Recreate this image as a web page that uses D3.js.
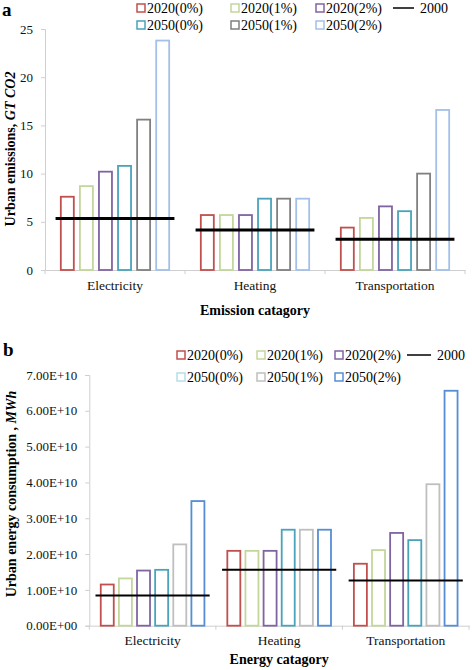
<!DOCTYPE html>
<html><head><meta charset="utf-8">
<script src="https://cdn.jsdelivr.net/npm/d3@7"></script>
<style>
html,body{margin:0;padding:0;background:#fff;}
svg, svg text{font-family:"Liberation Serif","Times New Roman",serif;}
</style></head>
<body>
<svg id="chart" width="472" height="670"></svg>
<script>
const categories = ["Electricity", "Heating", "Transportation"];
const seriesNames = ["2020(0%)", "2020(1%)", "2020(2%)", "2050(0%)", "2050(1%)", "2050(2%)"];

// Panel a: urban emissions (GT CO2)
const emis2020_0 = [7.6, 5.7, 4.4];
const emis2020_1 = [8.7, 5.7, 5.4];
const emis2020_2 = [10.2, 5.7, 6.6];
const emis2050_0 = [10.8, 7.4, 6.1];
const emis2050_1 = [15.6, 7.4, 10.0];
const emis2050_2 = [23.8, 7.4, 16.6];
const emis2000 = [5.35, 4.15, 3.2];
const ticksA = [0, 5, 10, 15, 20, 25];
const tickLabelsA = ["0", "5", "10", "15", "20", "25"];

// Panel b: urban energy consumption (MWh)
const ener2020_0 = [1.15e10, 2.09e10, 1.73e10];
const ener2020_1 = [1.32e10, 2.09e10, 2.11e10];
const ener2020_2 = [1.54e10, 2.09e10, 2.59e10];
const ener2050_0 = [1.56e10, 2.68e10, 2.39e10];
const ener2050_1 = [2.27e10, 2.68e10, 3.95e10];
const ener2050_2 = [3.48e10, 2.68e10, 6.56e10];
const ener2000 = [0.84e10, 1.56e10, 1.26e10];
const ticksB = [0, 1e10, 2e10, 3e10, 4e10, 5e10, 6e10, 7e10];
const tickLabelsB = ["0.00E+00", "1.00E+10", "2.00E+10", "3.00E+10", "4.00E+10", "5.00E+10", "6.00E+10", "7.00E+10"];

const colorsA = ["#c0504d", "#c3d69b", "#8064a2", "#4aa3bb", "#808080", "#a3c0e8"];
const legendColorsA = colorsA;
const colorsB = ["#c0504d", "#c3d69b", "#8064a2", "#4aa3bb", "#bfbfbf", "#558ed5"];
const legendColorsB = ["#c0504d", "#c3d69b", "#8064a2", "#b7dee8", "#bfbfbf", "#558ed5"];

const FONT = "Liberation Serif, Times New Roman, serif";
const svg = d3.select("#chart");

function panel(cfg) {
  const g = svg.append("g").attr("font-family", FONT);
  const x0 = d3.scaleBand().domain(categories).range([cfg.left, cfg.right]).padding(0);
  const x1 = d3.scaleBand().domain(seriesNames).range([0, x0.bandwidth()])
    .paddingInner(cfg.pInner).paddingOuter(cfg.pOuter);
  const y = d3.scaleLinear().domain(cfg.domain).range([cfg.bottom, cfg.top]);
  const axisColor = "#cfcfcf";

  // y axis
  const ya = g.append("g").attr("transform", `translate(${cfg.left},0)`)
    .call(d3.axisLeft(y).tickValues(cfg.ticks).tickFormat((d, i) => cfg.tickLabels[i]).tickSize(4).tickPadding(8));
  ya.attr("font-family", FONT).attr("font-size", 13);
  ya.select(".domain").attr("stroke", axisColor);
  ya.selectAll(".tick line").attr("stroke", axisColor);
  ya.selectAll(".tick text").attr("fill", "#111").attr("font-family", FONT);

  // x axis
  const xa = g.append("g").attr("transform", `translate(0,${cfg.bottom})`)
    .call(d3.axisBottom(x0).tickSize(0).tickPadding(cfg.xLabelPad));
  xa.attr("font-family", FONT).attr("font-size", 13.5);
  xa.select(".domain").attr("stroke", axisColor);
  xa.selectAll(".tick text").attr("fill", "#111").attr("font-family", FONT);
  // boundary ticks
  const bounds = [cfg.left].concat(categories.map(c => x0(c) + x0.bandwidth()));
  g.selectAll("line.bt").data(bounds).join("line")
    .attr("x1", d => d).attr("x2", d => d)
    .attr("y1", cfg.bottom).attr("y2", cfg.bottom + 4)
    .attr("stroke", axisColor);

  // bars
  cfg.series.forEach((vals, si) => {
    g.selectAll(null).data(vals).join("rect")
      .attr("x", (d, ci) => x0(categories[ci]) + x1(seriesNames[si]) + 0.75)
      .attr("width", x1.bandwidth() - 1.5)
      .attr("y", d => y(d))
      .attr("height", d => y(0) - y(d))
      .attr("fill", "none")
      .attr("stroke", cfg.colors[si])
      .attr("stroke-width", 1.8);
  });

  // 2000 lines
  g.selectAll(null).data(cfg.base).join("line")
    .attr("x1", (d, ci) => x0(categories[ci]) + x1(seriesNames[0]) - 4.5)
    .attr("x2", (d, ci) => x0(categories[ci]) + x1(seriesNames[5]) + x1.bandwidth() + 4.5)
    .attr("y1", d => y(d)).attr("y2", d => y(d))
    .attr("stroke", "#000").attr("stroke-width", cfg.lineW);

  // axis titles
  g.append("text").attr("x", (cfg.left + cfg.right) / 2).attr("y", cfg.xTitleY)
    .attr("text-anchor", "middle").attr("font-weight", "bold").attr("font-size", "14px")
    .text(cfg.xTitle);
  const yt = g.append("text")
    .attr("transform", `translate(${cfg.yTitleX},${cfg.yTitleY}) rotate(-90)`)
    .attr("text-anchor", "middle").attr("font-weight", "bold").attr("font-size", "14px");
  yt.append("tspan").text(cfg.yTitle1);
  yt.append("tspan").attr("font-style", "italic").text(cfg.yTitle2);

  // panel letter
  g.append("text").attr("x", cfg.letterX).attr("y", cfg.letterY)
    .attr("font-weight", "bold").attr("font-size", "19px").text(cfg.letter);

  // legend
  seriesNames.forEach((s, i) => {
    const col = i % 3, row = Math.floor(i / 3);
    const lx = cfg.legCols[col], ly = cfg.legRows[row];
    g.append("rect").attr("x", lx).attr("y", ly - 4).attr("width", 8).attr("height", 8)
      .attr("fill", "none").attr("stroke", cfg.legColors[i]).attr("stroke-width", 1.5);
    g.append("text").attr("x", lx + 10).attr("y", ly).attr("dy", "0.35em")
      .attr("font-size", "14px").text(s);
  });
  g.append("line").attr("x1", cfg.legLine[0]).attr("x2", cfg.legLine[1])
    .attr("y1", cfg.legRows[0]).attr("y2", cfg.legRows[0])
    .attr("stroke", "#000").attr("stroke-width", 1.5);
  g.append("text").attr("x", cfg.legLine[1] + 6).attr("y", cfg.legRows[0]).attr("dy", "0.35em")
    .attr("font-size", "14px").text("2000");
}

panel({
  left: 45, right: 465, top: 29, bottom: 270, domain: [0, 25],
  pInner: 0.24, pOuter: 0.79,
  ticks: ticksA, tickLabels: tickLabelsA,
  series: [emis2020_0, emis2020_1, emis2020_2, emis2050_0, emis2050_1, emis2050_2],
  base: emis2000, colors: colorsA, legColors: legendColorsA, lineW: 3,
  xLabelPad: 10, xTitle: "Emission catagory", xTitleY: 315,
  yTitle1: "Urban emissions, ", yTitle2: "GT CO2", yTitleX: 15, yTitleY: 149,
  letter: "a", letterX: 2, letterY: 16,
  legCols: [137, 231, 316], legRows: [8, 25], legLine: [393, 414]
});

panel({
  left: 89.3, right: 469, top: 375, bottom: 625.7, domain: [0, 7e10],
  pInner: 0.2, pOuter: 0.59,
  ticks: ticksB, tickLabels: tickLabelsB,
  series: [ener2020_0, ener2020_1, ener2020_2, ener2050_0, ener2050_1, ener2050_2],
  base: ener2000, colors: colorsB, legColors: legendColorsB, lineW: 2,
  xLabelPad: 10, xTitle: "Energy catagory", xTitleY: 664,
  yTitle1: "Urban energy consumption , ", yTitle2: "MWh", yTitleX: 16, yTitleY: 494,
  letter: "b", letterX: 3, letterY: 356,
  legCols: [177, 257, 335], legRows: [355, 377], legLine: [407, 431]
});
</script>
</body></html>
